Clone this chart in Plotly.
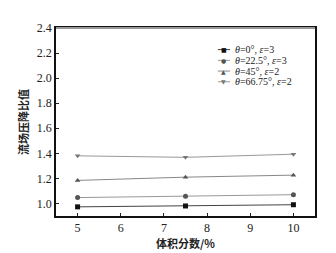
import plotly.graph_objects as go

volume_fraction = [5, 7.5, 10]
s1 = [0.973, 0.980, 0.990]
s2 = [1.047, 1.057, 1.070]
s3 = [1.184, 1.210, 1.226]
s4 = [1.380, 1.368, 1.393]
names = ["<i>θ</i>=0°, <i>ε</i>=3", "<i>θ</i>=22.5°, <i>ε</i>=3",
         "<i>θ</i>=45°, <i>ε</i>=2", "<i>θ</i>=66.75°, <i>ε</i>=2"]
series = [s1, s2, s3, s4]
symbols = ["square", "circle", "triangle-up", "triangle-down"]
legend_glyphs = ["■", "●", "▲", "▼"]
marker_colors = ["#111111", "#555555", "#555555", "#777777"]
line_colors = ["#444444", "#999999", "#888888", "#999999"]

FONT = "Times New Roman, Liberation Serif, DejaVu Serif, serif"
CJK = "Noto Sans CJK SC"

fig = go.Figure()
for ys, nm, sym, mc, lc in zip(series, names, symbols, marker_colors, line_colors):
    fig.add_trace(go.Scatter(
        x=volume_fraction, y=ys, name=nm, mode="lines+markers",
        line=dict(color=lc, width=1),
        marker=dict(symbol=sym, size=5, color=mc),
        showlegend=False,
    ))

# compact legend drawn by hand
leg_y = [0.885, 0.828, 0.771, 0.714]
for yy, nm, g, mc, lc in zip(leg_y, names, legend_glyphs, marker_colors, line_colors):
    fig.add_shape(type="line", xref="paper", yref="paper", x0=0.625, x1=0.672,
                  y0=yy, y1=yy, line=dict(color=lc, width=1))
    fig.add_annotation(xref="paper", yref="paper", x=0.6485, y=yy, text=g,
                       showarrow=False, font=dict(size=6, color=mc, family="DejaVu Sans"),
                       xanchor="center", yanchor="middle")
    fig.add_annotation(xref="paper", yref="paper", x=0.684, y=yy, text=nm,
                       showarrow=False, font=dict(size=10, color="#222222", family=FONT),
                       xanchor="left", yanchor="middle")

fig.update_layout(
    width=336, height=253,
    margin=dict(l=48, r=29, t=20, b=41),
    paper_bgcolor="white", plot_bgcolor="white",
    font=dict(family=FONT, size=12, color="#222222"),
    showlegend=False,
    xaxis=dict(range=[4.5, 10.5], tickvals=[5, 6, 7, 8, 9, 10],
               ticks="inside", ticklen=3, tickcolor="#222",
               tickfont=dict(family=FONT, size=12),
               showline=True, linecolor="#111", linewidth=1.5, mirror=True,
               showgrid=False, zeroline=False,
               title=dict(text="<b>体积分数/%</b>", font=dict(size=11, family=CJK), standoff=6)),
    yaxis=dict(range=[0.9, 2.4], tickvals=[1.0, 1.2, 1.4, 1.6, 1.8, 2.0, 2.2, 2.4],
               tickformat=".1f",
               ticks="inside", ticklen=3, tickcolor="#222",
               tickfont=dict(family=FONT, size=12),
               showline=True, linecolor="#111", linewidth=1.5, mirror=True,
               showgrid=False, zeroline=False,
               title=dict(text="<b>流场压降比值</b>", font=dict(size=11, family=CJK), standoff=6)),
)
fig.add_shape(type="line", xref="paper", yref="paper", x0=0, x1=1, y0=1, y1=1,
              line=dict(color="#999999", width=2))

fig.write_html("out.html")
